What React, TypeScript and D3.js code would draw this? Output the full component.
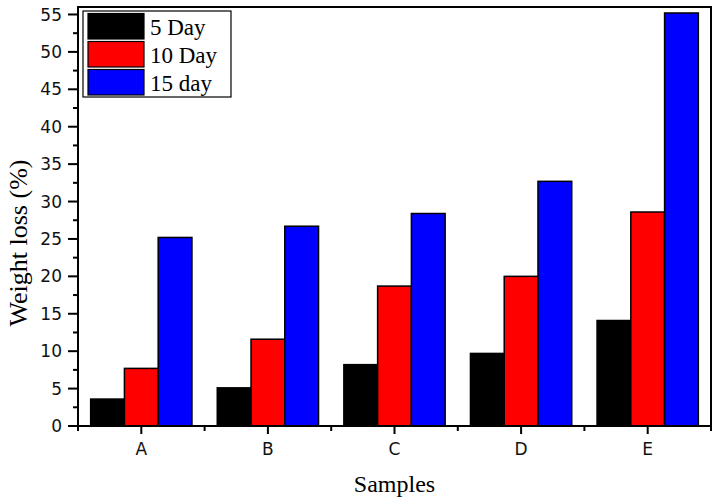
import * as d3 from 'd3';
import React from 'react';

const samples = ['A', 'B', 'C', 'D', 'E'];
const seriesNames = ['5 Day', '10 Day', '15 day'];
const seriesColors = ['#000000', '#ff0000', '#0000ff'];
const day5 = [3.6, 5.1, 8.2, 9.7, 14.1];
const day10 = [7.7, 11.6, 18.7, 20.0, 28.6];
const day15 = [25.2, 26.7, 28.4, 32.7, 55.2];
const yTicks = [0, 5, 10, 15, 20, 25, 30, 35, 40, 45, 50, 55];

const W = 722;
const H = 504;
const margin = { left: 78, right: 11, top: 7, bottom: 78 };

const App: React.FC = () => {
  const values = [day5, day10, day15];
  const plotRight = W - margin.right;
  const plotBottom = H - margin.bottom;

  const x0 = d3.scaleBand<string>().domain(samples).range([margin.left, plotRight]);
  const bw = x0.bandwidth();
  const x1 = d3
    .scaleBand<string>()
    .domain(seriesNames)
    .range([bw * 0.1, bw * 0.9]);
  const y = d3.scaleLinear().domain([0, 56]).range([plotBottom, margin.top]);

  const minorY = d3.range(2.5, 56, 5);
  const boundaries = d3.range(samples.length + 1).map((i) => margin.left + i * bw);

  const sans = 'DejaVu Sans, sans-serif';
  const serif = 'Liberation Serif, Times New Roman, serif';

  return (
    <svg
      width={W}
      height={H}
      style={{ position: 'absolute', left: 0, top: 0, background: 'white' }}
    >
      {/* bars */}
      {samples.map((s, i) => (
        <g key={s} transform={`translate(${x0(s)},0)`}>
          {seriesNames.map((name, k) => (
            <rect
              key={name}
              x={x1(name)}
              y={y(values[k][i])}
              width={x1.bandwidth()}
              height={plotBottom - y(values[k][i])}
              fill={seriesColors[k]}
              stroke='black'
              strokeWidth={1.5}
            />
          ))}
        </g>
      ))}

      {/* frame */}
      <rect
        x={margin.left}
        y={margin.top}
        width={plotRight - margin.left}
        height={plotBottom - margin.top}
        fill='none'
        stroke='black'
        strokeWidth={2}
      />

      {/* y axis */}
      {yTicks.map((t) => (
        <g key={t}>
          <line x1={margin.left - 10} x2={margin.left} y1={y(t)} y2={y(t)} stroke='black' strokeWidth={2} />
          <text
            x={margin.left - 16}
            y={y(t)}
            dy='0.36em'
            textAnchor='end'
            fontFamily={sans}
            fontSize={17}
            fill='#111'
          >
            {t}
          </text>
        </g>
      ))}
      {minorY.map((t) => (
        <line key={t} x1={margin.left - 5} x2={margin.left} y1={y(t)} y2={y(t)} stroke='black' strokeWidth={2} />
      ))}

      {/* x axis */}
      {samples.map((s) => {
        const cx = (x0(s) ?? 0) + bw / 2;
        return (
          <g key={s}>
            <line x1={cx} x2={cx} y1={plotBottom} y2={plotBottom + 8} stroke='black' strokeWidth={2} />
            <text
              x={cx}
              y={plotBottom + 29}
              textAnchor='middle'
              fontFamily={sans}
              fontSize={17}
              fill='#111'
            >
              {s}
            </text>
          </g>
        );
      })}
      {boundaries.map((bx, i) => (
        <line key={i} x1={bx} x2={bx} y1={plotBottom} y2={plotBottom + 5} stroke='black' strokeWidth={2} />
      ))}

      {/* axis titles */}
      <text
        x={(margin.left + plotRight) / 2}
        y={492}
        textAnchor='middle'
        fontFamily={serif}
        fontSize={24}
        fill='black'
      >
        Samples
      </text>
      <text
        transform='translate(27,243) rotate(-90)'
        textAnchor='middle'
        fontFamily={serif}
        fontSize={26}
        fill='black'
      >
        Weight loss (%)
      </text>

      {/* legend */}
      <g>
        <rect x={83} y={11} width={148} height={86} fill='white' stroke='black' strokeWidth={1.2} />
        {seriesNames.map((name, k) => (
          <g key={name} transform={`translate(88,${13.5 + k * 28})`}>
            <rect width={56} height={25.5} fill={seriesColors[k]} stroke='black' strokeWidth={1.2} />
            <text x={62} y={21.5} fontFamily={serif} fontSize={23} fill='black'>
              {name}
            </text>
          </g>
        ))}
      </g>
    </svg>
  );
};

export default App;
